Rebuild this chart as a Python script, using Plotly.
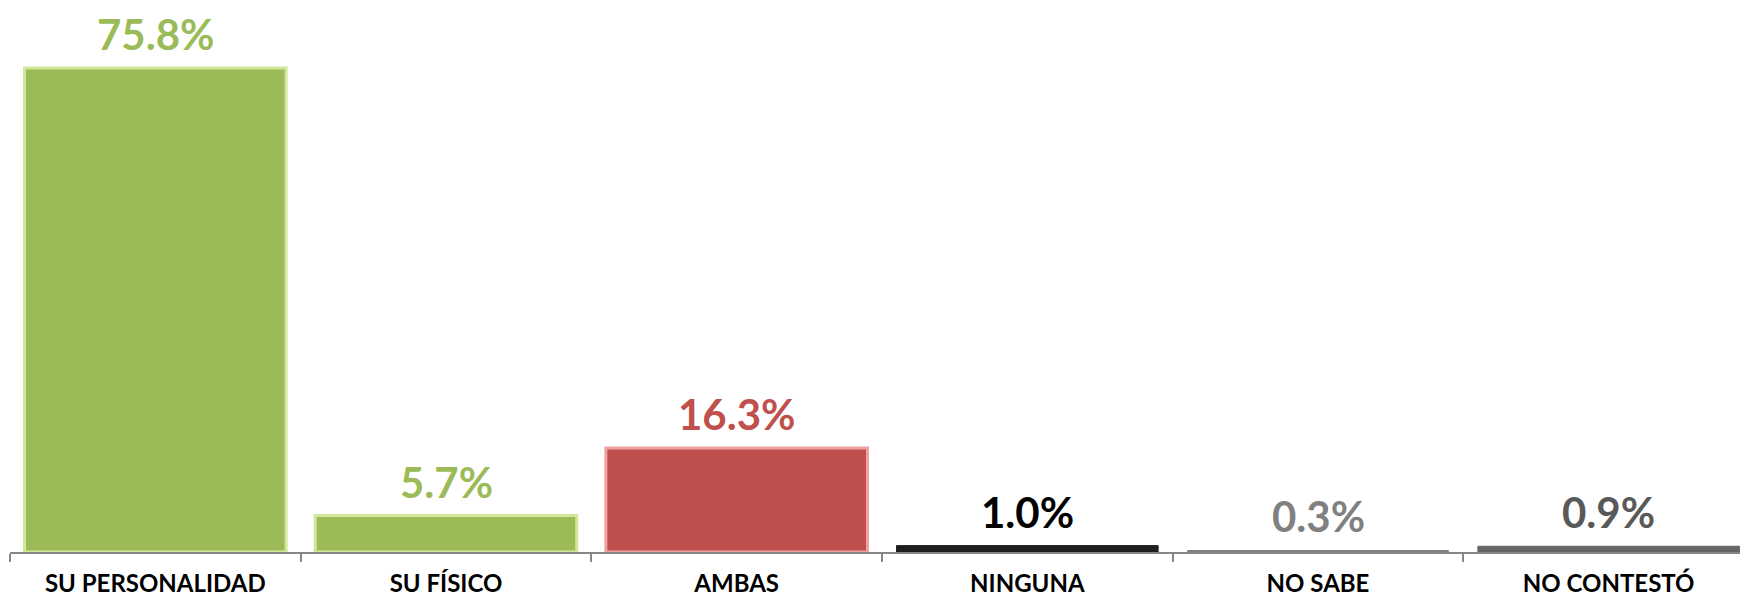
'''
    Bar chart: what matters most (survey results, percentages).
'''

import plotly.graph_objects as go

# Data
categories = ["SU PERSONALIDAD", "SU FÍSICO", "AMBAS", "NINGUNA", "NO SABE", "NO CONTESTÓ"]
values = [75.8, 5.7, 16.3, 1.0, 0.3, 0.9]
bar_colors = ["#9BBB59", "#9BBB59", "#C0504D", "#1F1F1F", "#7F7F7F", "#666666"]
edge_colors = ["#D3E79A", "#D3E79A", "#EFA29F", "#1F1F1F", "#7F7F7F", "#666666"]
edge_widths = [3, 3, 3, 1, 0, 1]
label_colors = ["#9BBB59", "#9BBB59", "#C0504D", "#000000", "#808080", "#595959"]

FONT = "Century Gothic, Lato, sans-serif"

fig = go.Figure()

# Bars
fig.add_trace(go.Bar(
    x=categories, y=values,
    marker=dict(color=bar_colors, line=dict(color=edge_colors, width=edge_widths)),
    width=0.9, hoverinfo="skip", showlegend=False,
))

# Value labels above each bar
for cat, val, col in zip(categories, values, label_colors):
    fig.add_annotation(x=cat, y=val, text=f"{val:.1f}%", showarrow=False,
                       yanchor="bottom", yshift=8, borderpad=0,
                       font=dict(family=FONT, size=42, color=col, weight="bold"))

fig.update_xaxes(
    showline=True, linecolor="#878787", linewidth=2,
    ticks="outside", tickson="boundaries", ticklen=8, tickcolor="#878787", tickwidth=2,
    ticklabelstandoff=9,
    tickfont=dict(family=FONT, size=24, color="black", weight="bold"),
    range=[-0.5, 5.5], automargin=False,
)
fig.update_yaxes(visible=False, range=[0, 85.2], automargin=False)

fig.update_layout(
    width=1748, height=598,
    margin=dict(l=2, r=2, t=0, b=54),
    plot_bgcolor="white", paper_bgcolor="white",
    bargap=0.1,
)

fig.write_html("out.html")
